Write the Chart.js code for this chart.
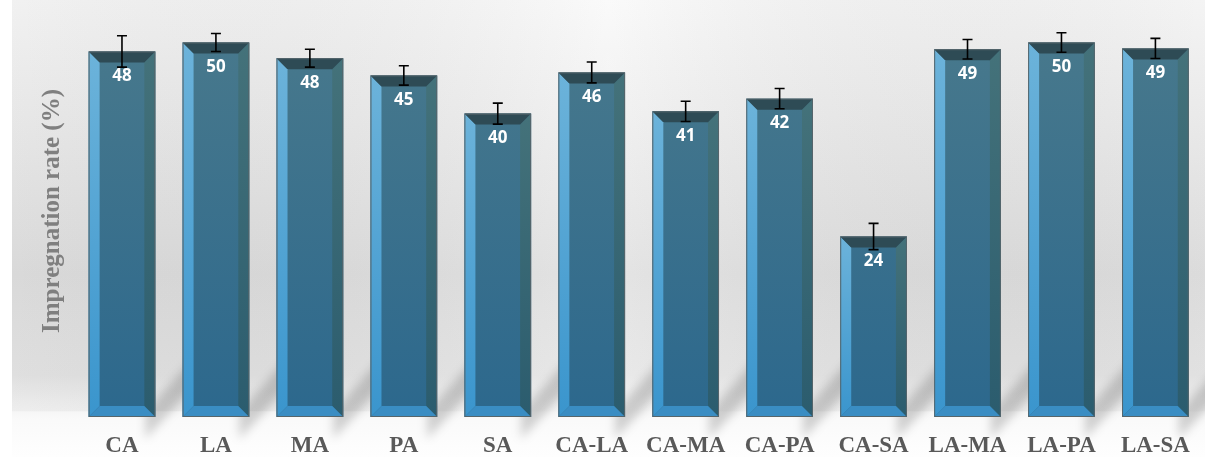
<!DOCTYPE html>
<html lang="en">
<head>
  <meta charset="UTF-8">
  <title>Impregnation rate</title>
  <script src="https://cdn.jsdelivr.net/npm/chart.js"></script>
</head>

<style>
  html, body {
    margin: 0;
    padding: 0;
    background: #ffffff;
  }

  .grafico {
    width: 1205px;
    height: 457px;
  }
</style>

<body>
  <div class="grafico">
    <canvas id="rateChart"></canvas>
  </div>

  <script>
    // Data
    const categories = ['CA', 'LA', 'MA', 'PA', 'SA', 'CA-LA', 'CA-MA', 'CA-PA', 'CA-SA', 'LA-MA', 'LA-PA', 'LA-SA'];
    const rates = [48.8, 50.0, 47.9, 45.6, 40.5, 46.0, 40.8, 42.5, 24.1, 49.1, 50.0, 49.2];
    const rateLabels = ['48', '50', '48', '45', '40', '46', '41', '42', '24', '49', '50', '49'];
    const errors = [2.1, 1.2, 1.2, 1.3, 1.4, 1.4, 1.35, 1.35, 1.75, 1.3, 1.3, 1.35];

    // background: gray panel with light top and white floor
    const fondo = {
      id: 'fondo',
      beforeDraw(chart) {
        const c = chart.ctx;
        const w = chart.width, h = chart.height;
        c.save();
        c.fillStyle = '#ffffff';
        c.fillRect(0, 0, w, h);
        const g = c.createLinearGradient(0, 0, 0, h);
        g.addColorStop(0, '#f9f9f9');
        g.addColorStop(0.25, '#efefef');
        g.addColorStop(0.6, '#e0e0e0');
        g.addColorStop(0.82, '#e6e6e6');
        g.addColorStop(0.92, '#fafafa');
        g.addColorStop(1, '#fefefe');
        c.fillStyle = g;
        c.fillRect(12, 0, w - 12, h);
        const s = c.createLinearGradient(12, 0, w, 0);
        s.addColorStop(0, 'rgba(0,0,0,0.03)');
        s.addColorStop(0.5, 'rgba(255,255,255,0.15)');
        s.addColorStop(1, 'rgba(0,0,0,0.02)');
        c.fillStyle = s;
        c.fillRect(12, 0, w - 12, h * 0.9);
        c.restore();
      }
    };

    // soft shadow streaks behind each bar
    const sombras = {
      id: 'sombras',
      beforeDatasetsDraw(chart) {
        const c = chart.ctx;
        const meta = chart.getDatasetMeta(0);
        c.save();
        c.filter = 'blur(5px)';
        c.fillStyle = 'rgba(0,0,0,0.17)';
        meta.data.forEach(bar => {
          const R = bar.x + bar.width / 2, B = bar.base;
          c.beginPath();
          c.moveTo(R - 10, B - 5);
          c.lineTo(R + 80, B - 105);
          c.lineTo(R + 80, B - 75);
          c.lineTo(R - 10, B + 22);
          c.closePath();
          c.fill();
        });
        c.restore();
      }
    };

    function poly(c, pts, fill) {
      c.beginPath();
      c.moveTo(pts[0][0], pts[0][1]);
      for (let i = 1; i < pts.length; i++) c.lineTo(pts[i][0], pts[i][1]);
      c.closePath();
      c.fillStyle = fill;
      c.fill();
    }

    // bevel, error bars and value labels
    const bisel = {
      id: 'bisel',
      afterDatasetsDraw(chart) {
        const c = chart.ctx;
        const meta = chart.getDatasetMeta(0);
        const y = chart.scales.y;
        const b = 11;
        c.save();
        meta.data.forEach((bar, i) => {
          const L = bar.x - bar.width / 2, R = bar.x + bar.width / 2;
          const T = bar.y, B = bar.base;

          const gl = c.createLinearGradient(0, T, 0, B);
          gl.addColorStop(0, '#6cb3da');
          gl.addColorStop(1, '#3a95cd');
          poly(c, [[L, T], [L + b, T + b], [L + b, B - b], [L, B]], gl);

          const gr = c.createLinearGradient(0, T, 0, B);
          gr.addColorStop(0, '#44727a');
          gr.addColorStop(1, '#2b5c6e');
          poly(c, [[R, T], [R, B], [R - b, B - b], [R - b, T + b]], gr);

          poly(c, [[L, T], [R, T], [R - b, T + b], [L + b, T + b]], '#2e4b55');
          poly(c, [[L, B], [R, B], [R - b, B - b], [L + b, B - b]], '#3a8dc3');

          c.strokeStyle = '#56656b';
          c.lineWidth = 1;
          c.strokeRect(L + 0.5, T + 0.5, R - L - 1, B - T - 1);

          // error bar
          const yHi = y.getPixelForValue(rates[i] + errors[i]);
          const yLo = y.getPixelForValue(rates[i] - errors[i]);
          c.strokeStyle = '#000000';
          c.lineWidth = 1.6;
          c.beginPath();
          c.moveTo(bar.x, yHi); c.lineTo(bar.x, yLo);
          c.moveTo(bar.x - 5, yHi); c.lineTo(bar.x + 5, yHi);
          c.moveTo(bar.x - 5, yLo); c.lineTo(bar.x + 5, yLo);
          c.stroke();

          // value label
          c.fillStyle = '#ffffff';
          c.font = 'bold 17px "Open Sans", sans-serif';
          c.textAlign = 'center';
          c.textBaseline = 'middle';
          c.fillText(rateLabels[i], bar.x, T + 25);
        });
        c.restore();
      }
    };

    const ctx = document.getElementById('rateChart').getContext('2d');
    const chart = new Chart(ctx, {
      type: 'bar',
      data: {
        labels: categories,
        datasets: [{
          label: 'Impregnation rate (%)',
          data: rates,
          backgroundColor: function(context) {
            const area = context.chart.chartArea;
            if (!area) return '#3d7590';
            const g = context.chart.ctx.createLinearGradient(0, area.top, 0, area.bottom);
            g.addColorStop(0, '#4a7a8c');
            g.addColorStop(1, '#2c688d');
            return g;
          },
          borderWidth: 0,
          barPercentage: 0.71,
          categoryPercentage: 1.0
        }]
      },
      options: {
        responsive: true,
        maintainAspectRatio: false,
        animation: false,
        layout: {
          padding: { left: 12, right: 2, top: 5, bottom: 0 }
        },
        plugins: {
          legend: { display: false },
          tooltip: { enabled: false }
        },
        scales: {
          x: {
            grid: { display: false, drawTicks: false },
            border: { display: false },
            ticks: {
              color: '#595959',
              padding: 15,
              font: { family: '"Liberation Serif", "Times New Roman", serif', size: 23, weight: 'bold' }
            },
            afterFit(scale) { scale.height = 40; }
          },
          y: {
            min: 0,
            max: 55,
            grid: { display: false },
            border: { display: false },
            ticks: { display: false },
            title: {
              display: true,
              text: 'Impregnation rate (%)',
              color: '#7f7f7f',
              padding: { top: 26, bottom: 0 },
              font: { family: '"Liberation Serif", "Times New Roman", serif', size: 25, weight: 'bold' }
            },
            afterFit(scale) { scale.width = 63; }
          }
        }
      },
      plugins: [fondo, sombras, bisel]
    });
  </script>
</body>
</html>
